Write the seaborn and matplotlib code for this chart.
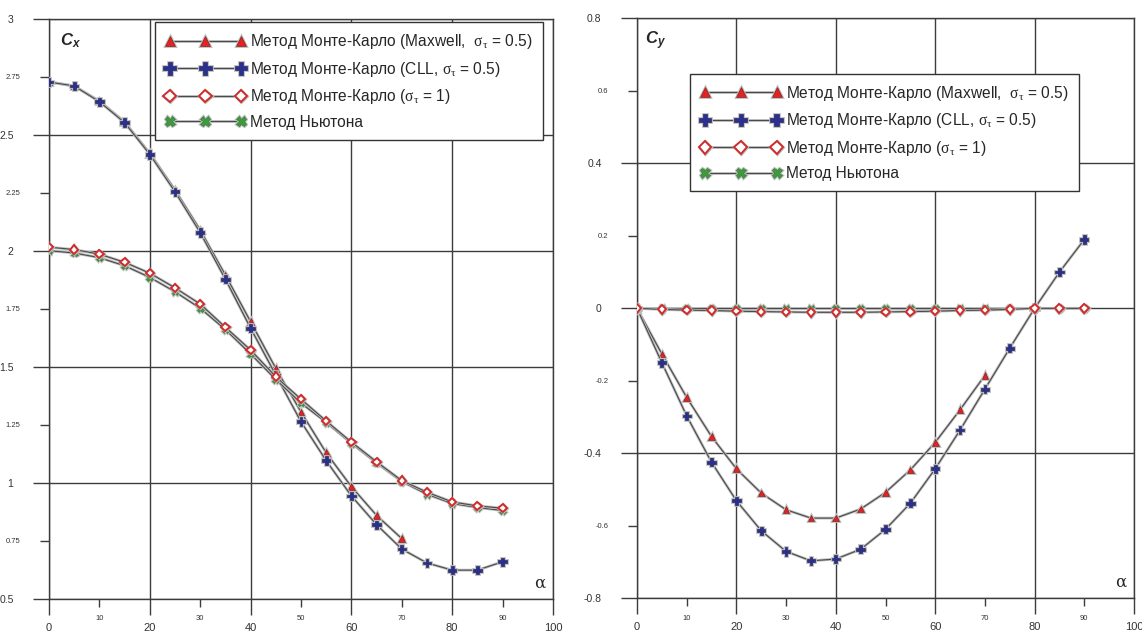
"""Cx and Cy vs angle of attack: Monte-Carlo vs Newton method."""
import matplotlib

matplotlib.use("Agg")
import matplotlib.pyplot as plt
import matplotlib.patheffects as pe
from matplotlib.ticker import FixedLocator, FixedFormatter
import seaborn as sns

# angle of attack, degrees
alpha = [0, 5, 10, 15, 20, 25, 30, 35, 40, 45, 50, 55, 60, 65, 70, 75, 80, 85, 90]
alpha_maxwell = alpha[:15]  # Maxwell series stops at 70

# Cx
cx_maxwell = [2.727, 2.71, 2.645, 2.555, 2.42, 2.262, 2.089, 1.895, 1.694, 1.493,
              1.305, 1.129, 0.983, 0.859, 0.759]
cx_cll = [2.727, 2.71, 2.642, 2.552, 2.415, 2.254, 2.078, 1.877, 1.666, 1.464,
          1.263, 1.095, 0.943, 0.819, 0.714, 0.654, 0.623, 0.623, 0.659]
cx_diffuse = [2.015, 2.005, 1.985, 1.95, 1.903, 1.84, 1.77, 1.67, 1.572, 1.457,
              1.36, 1.266, 1.175, 1.09, 1.009, 0.959, 0.917, 0.9, 0.89]
cx_newton = [2.0, 1.99, 1.97, 1.935, 1.885, 1.823, 1.752, 1.66, 1.555, 1.445,
             1.343, 1.26, 1.17, 1.085, 1.005, 0.95, 0.91, 0.893, 0.88]

# Cy
cy_maxwell = [0.0, -0.126, -0.246, -0.354, -0.443, -0.51, -0.556, -0.579, -0.579,
              -0.554, -0.508, -0.446, -0.37, -0.28, -0.185]
cy_cll = [0.0, -0.15, -0.297, -0.425, -0.531, -0.614, -0.671, -0.697, -0.692,
          -0.665, -0.61, -0.538, -0.443, -0.336, -0.223, -0.11, 0.0, 0.1, 0.19]
cy_diffuse = [0.0, -0.003, -0.005, -0.006, -0.008, -0.009, -0.01, -0.011, -0.011,
              -0.011, -0.01, -0.009, -0.008, -0.006, -0.005, -0.003, 0.0, 0.0, 0.0]
cy_newton = [0.0] * 19

labels = [
    r"Метод Монте-Карло (Maxwell,  $\mathrm{\sigma_\tau}$ = 0.5)",
    r"Метод Монте-Карло (CLL, $\mathrm{\sigma_\tau}$ = 0.5)",
    r"Метод Монте-Карло ($\mathrm{\sigma_\tau}$ = 1)",
    "Метод Ньютона",
]

x_major = [0, 20, 40, 60, 80, 100]
x_minor = [10, 30, 50, 70, 90]
cx_major = [0.5, 1, 1.5, 2, 2.5, 3]
cx_minor = [0.75, 1.25, 1.75, 2.25, 2.75]
cy_major = [-0.8, -0.4, 0, 0.4, 0.8]
cy_minor = [-0.6, -0.2, 0.2, 0.6]

sns.set_theme(style="white")
plt.rcParams["font.family"] = ["Liberation Sans", "DejaVu Sans"]
plt.rcParams["mathtext.fontset"] = "custom"
plt.rcParams["mathtext.rm"] = "Liberation Serif"
plt.rcParams["mathtext.it"] = "Liberation Serif:italic"
plt.rcParams["mathtext.sf"] = "Liberation Sans:italic:bold"
plt.rcParams["axes.unicode_minus"] = False

AX_COLOR = "#3c3c3c"
halo = [pe.Stroke(linewidth=2.0, foreground="#bdbdbd"), pe.Normal()]

styles = [
    dict(marker="^", markersize=4.8, markerfacecolor="#e02424",
         markeredgecolor="#7a1010", markeredgewidth=0.4, zorder=3),
    dict(marker="P", markersize=6, markerfacecolor="#2a2f92",
         markeredgecolor="#141650", markeredgewidth=0.4, zorder=4),
    dict(marker="D", markersize=4.3, markerfacecolor="white",
         markeredgecolor="#d02a2a", markeredgewidth=1.4, zorder=6),
    dict(marker="X", markersize=4.8, markerfacecolor="#3f9a3f",
         markeredgecolor="#2d7a2d", markeredgewidth=0.4, zorder=5),
]


def style_axis(ax, ymajor, yminor, ylim):
    ax.set_xlim(0, 100)
    ax.set_ylim(*ylim)
    ax.xaxis.set_major_locator(FixedLocator(x_major))
    ax.xaxis.set_minor_locator(FixedLocator(x_minor))
    ax.xaxis.set_major_formatter(FixedFormatter([str(v) for v in x_major]))
    ax.xaxis.set_minor_formatter(FixedFormatter([str(v) for v in x_minor]))
    ax.yaxis.set_major_locator(FixedLocator(ymajor))
    ax.yaxis.set_minor_locator(FixedLocator(yminor))
    ax.yaxis.set_major_formatter(FixedFormatter([f"{v:g}" for v in ymajor]))
    ax.yaxis.set_minor_formatter(FixedFormatter([f"{v:g}" for v in yminor]))
    ax.tick_params(axis="x", which="major", direction="out", length=11.5,
                   width=1, color=AX_COLOR, labelsize=8, pad=6,
                   labelcolor="#333333", bottom=True)
    ax.tick_params(axis="x", which="minor", direction="out", length=5.8,
                   width=1, color=AX_COLOR, labelsize=5.5, pad=6,
                   labelcolor="#333333", bottom=True)
    ax.tick_params(axis="y", which="major", direction="out", length=11.5,
                   width=1, color=AX_COLOR, labelsize=7.5, pad=14,
                   labelcolor="#333333", left=True)
    ax.tick_params(axis="y", which="minor", direction="out", length=6.5,
                   width=1, color=AX_COLOR, labelsize=5.5, pad=14,
                   labelcolor="#333333", left=True)
    ax.grid(True, which="major", color=AX_COLOR, linewidth=1.0)
    ax.set_axisbelow(True)
    for sp in ax.spines.values():
        sp.set_visible(True)
        sp.set_color(AX_COLOR)
        sp.set_linewidth(1.0)
    ax.set_xlabel("")
    ax.set_ylabel("")
    ax.text(0.974, 0.027, "α", transform=ax.transAxes, fontsize=12,
            family="DejaVu Serif", ha="center", va="center")


def draw(ax, series):
    for (xs, ys), lab, st in zip(series, labels, styles):
        line_kws = dict(st)
        z = line_kws.pop("zorder")
        sns.lineplot(x=xs, y=ys, ax=ax, color="#4a4a4a", linewidth=0.8,
                     label=lab, zorder=z, path_effects=halo, **line_kws)


fig = plt.figure(figsize=(11.42, 6.35), dpi=100)
ax1 = fig.add_axes([0.0429, 0.0572, 0.4413, 0.9134])
ax2 = fig.add_axes([0.5578, 0.058, 0.4352, 0.9129])

draw(ax1, [(alpha_maxwell, cx_maxwell), (alpha, cx_cll),
           (alpha, cx_diffuse), (alpha, cx_newton)])
draw(ax2, [(alpha_maxwell, cy_maxwell), (alpha, cy_cll),
           (alpha, cy_diffuse), (alpha, cy_newton)])

style_axis(ax1, cx_major, cx_minor, (0.5, 3))
style_axis(ax2, cy_major, cy_minor, (-0.8, 0.8))

ax1.text(0.022, 0.962, r"$\mathsf{C}_{\mathsf{x}}$", transform=ax1.transAxes,
         fontsize=12, ha="left", va="center")
ax2.text(0.016, 0.962, r"$\mathsf{C}_{\mathsf{y}}$", transform=ax2.transAxes,
         fontsize=12, ha="left", va="center")

for ax, anchor in [(ax1, (0.21, 0.994)), (ax2, (0.107, 0.905))]:
    leg = ax.legend(loc="upper left", bbox_to_anchor=anchor, frameon=True,
                    fancybox=False, edgecolor="#333333", framealpha=1,
                    numpoints=3, handlelength=5.2, markerscale=1.5,
                    fontsize=11.2, borderpad=0.65, labelspacing=0.55,
                    handletextpad=0.3, borderaxespad=0)
    leg.get_frame().set_linewidth(1.0)

fig.savefig("out.png", dpi=100)
